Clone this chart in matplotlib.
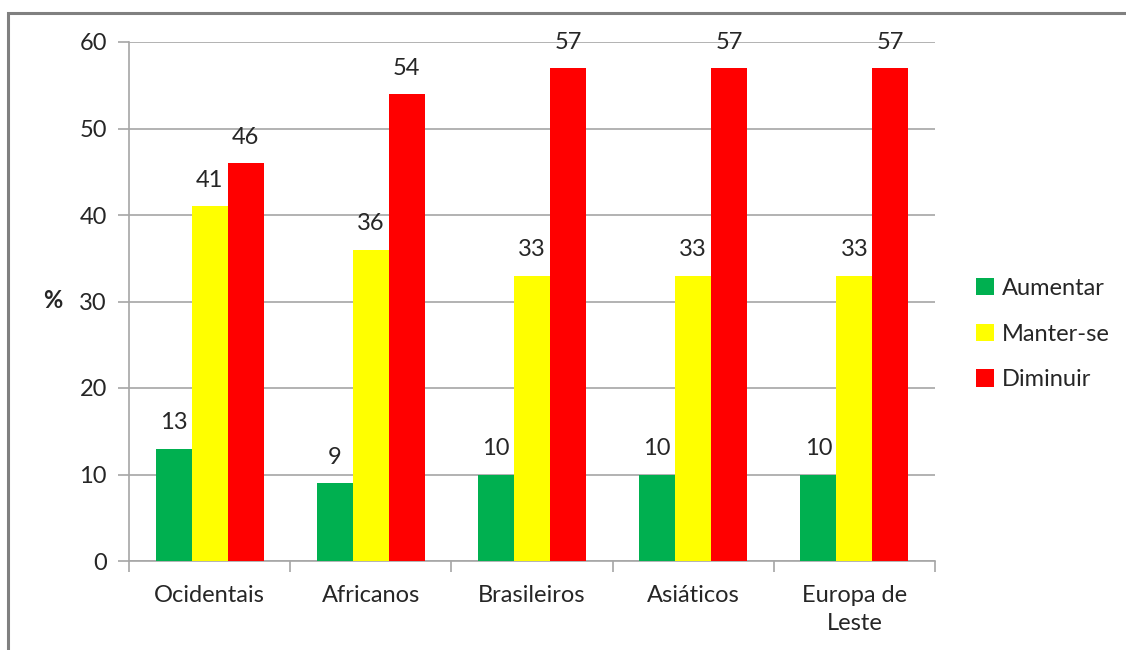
import matplotlib.pyplot as plt
import numpy as np
from matplotlib.patches import Rectangle

# Survey results per origin group
groups = ['Ocidentais', 'Africanos', 'Brasileiros', 'Asiáticos', 'Europa de\nLeste']
aumentar = [13, 9, 10, 10, 10]
manter = [41, 36, 33, 33, 33]
diminuir = [46, 54, 57, 57, 57]
series_names = ['Aumentar', 'Manter-se', 'Diminuir']
colors = ['#00B050', '#FFFF00', '#FF0000']

plt.rcParams['font.family'] = ['Lato', 'DejaVu Sans']
grey = '#A6A6A6'
txt = '#262626'
fs = 17

fig = plt.figure(figsize=(11.26, 6.5), dpi=100)
W, H = 1126, 650
ax = fig.add_axes([129 / W, 1 - 561 / H, (935 - 129) / W, (561 - 42) / H])

# outer chart frame
fig.patches.append(Rectangle((8 / W, -0.1), 1.2, 1 - 13 / H + 0.1, transform=fig.transFigure,
                             fill=False, edgecolor='#808080', linewidth=2.2, zorder=0))

x = np.arange(len(groups))
bw = 0.223
for i, (vals, name, c) in enumerate(zip([aumentar, manter, diminuir], series_names, colors)):
    pos = x + (i - 1) * bw
    ax.bar(pos, vals, width=bw, color=c, label=name, zorder=3)
    for p, v in zip(pos, vals):
        ax.annotate(str(v), (p, v), xytext=(0, 11), textcoords='offset points',
                    ha='center', va='bottom', fontsize=fs, color=txt)

ax.set_xlim(-0.5, len(groups) - 0.5)
ax.set_ylim(0, 60)
ax.set_yticks(range(0, 61, 10))
ax.yaxis.grid(True, color=grey, linewidth=1.2, zorder=0)
ax.set_axisbelow(True)

ax.set_xticks(x)
ax.set_xticklabels(groups, fontsize=fs, color=txt, linespacing=1.45)
ax.tick_params(axis='x', length=0, pad=17)
ax.set_xticks(np.arange(-0.5, len(groups), 1), minor=True)
ax.tick_params(axis='x', which='minor', length=8, color=grey, width=1.2)
ax.tick_params(axis='y', length=8, color=grey, width=1.2, labelsize=fs, labelcolor=txt, pad=8)

for s in ['top', 'right']:
    ax.spines[s].set_visible(False)
for s in ['left', 'bottom']:
    ax.spines[s].set_color(grey)
    ax.spines[s].set_linewidth(1.2)

fig.text(53 / W, 1 - 301 / H, '%', fontsize=fs, fontweight='bold', color=txt,
         ha='center', va='center')

ax.legend(loc='center left', bbox_to_anchor=(976 / W, 1 - 334 / H), bbox_transform=fig.transFigure,
          borderaxespad=0, borderpad=0, frameon=False, fontsize=fs, handlelength=0.75,
          handleheight=0.75, handletextpad=0.35, labelspacing=1.05, labelcolor=txt)

fig.savefig('out.png', dpi=100, facecolor='white')
